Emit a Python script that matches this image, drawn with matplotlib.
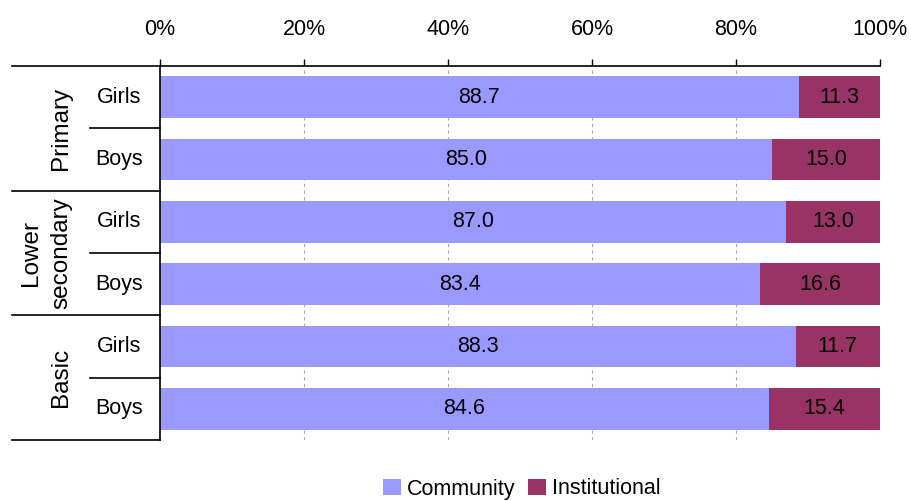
import numpy as np
import matplotlib
matplotlib.use("Agg")
import matplotlib.pyplot as plt

plt.rcParams['font.family'] = ['Liberation Sans', 'DejaVu Sans']

# ---- data ----
groups = ["Primary", "Lower\nsecondary", "Basic"]
sexes = ["Girls", "Boys", "Girls", "Boys", "Girls", "Boys"]
community = [88.7, 85.0, 87.0, 83.4, 88.3, 84.6]
institutional = [11.3, 15.0, 13.0, 16.6, 11.7, 15.4]
ticks = [0, 20, 40, 60, 80, 100]
tick_labels = ["0%", "20%", "40%", "60%", "80%", "100%"]

C_COM = "#9999FF"
C_INS = "#993366"
FS = 15.5

fig = plt.figure(figsize=(9.11, 5.01), dpi=100)
ax = fig.add_axes([160/911, 1-440/501, 720/911, (440-66)/501])

y = np.arange(len(sexes))
ax.barh(y, community, height=0.67, color=C_COM, label="Community", zorder=2)
ax.barh(y, institutional, left=community, height=0.67, color=C_INS,
        label="Institutional", zorder=2)
for i in range(len(y)):
    ax.text(community[i] / 2, y[i], f"{community[i]:.1f}", ha="center", va="center",
            fontsize=FS, zorder=3)
    ax.text(community[i] + institutional[i] / 2, y[i], f"{institutional[i]:.1f}",
            ha="center", va="center", fontsize=FS, zorder=3)

ax.set_xlim(0, 100)
ax.set_ylim(len(y) - 0.5, -0.5)
ax.set_xticks(ticks)
ax.set_xticklabels(tick_labels, fontsize=FS)
ax.xaxis.tick_top()
ax.tick_params(axis="x", direction="out", length=5, width=1, pad=14)
ax.set_yticks([])
for v in ticks[1:]:
    ax.axvline(v, color="#aaaaaa", lw=0.8, ls=(0, (3, 3)), zorder=1)
for s in ["bottom", "right"]:
    ax.spines[s].set_visible(False)
ax.spines["top"].set_linewidth(1.2)
ax.spines["left"].set_linewidth(1.2)

# ---- left-hand category labels ----
tr = ax.get_yaxis_transform()
for b in [-0.5, 1.5, 3.5, 5.5]:
    ax.plot([-0.2056, 0], [b, b], color="black", lw=1.2, transform=tr, clip_on=False)
for b in [0.5, 2.5, 4.5]:
    ax.plot([-0.0972, 0], [b, b], color="black", lw=1.2, transform=tr, clip_on=False)
for i, s in enumerate(sexes):
    ax.text(-0.057, y[i], s, ha="center", va="center", fontsize=FS, transform=tr)
group_x = [-0.1375, -0.158, -0.1375]
for g, name in enumerate(groups):
    ax.text(group_x[g], 2 * g + 0.5, name, ha="center", va="center", rotation=90,
            fontsize=17.5, transform=tr, linespacing=1.5)

fig.legend(loc="center", ncol=2, frameon=False, fontsize=FS,
           bbox_to_anchor=(522/911, 1-489/501), handlelength=0.8, handleheight=0.8,
           handletextpad=0.3, columnspacing=0.6, borderpad=0)

fig.savefig("out.png", dpi=100)
